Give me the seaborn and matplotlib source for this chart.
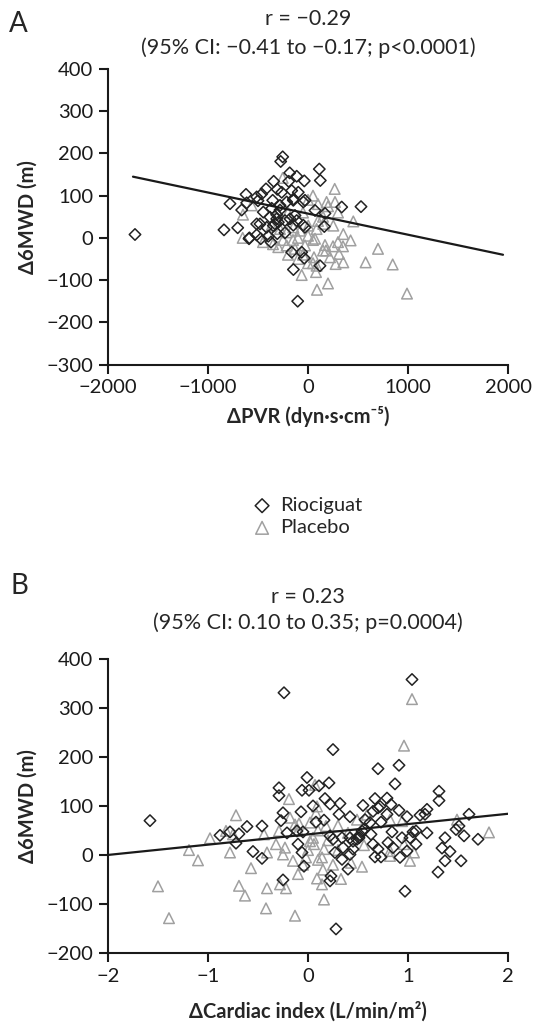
import numpy as np
import matplotlib
matplotlib.use("Agg")
import matplotlib.pyplot as plt
import seaborn as sns

# ---- panel A: change in PVR vs change in 6MWD ----
a_rio = [(-1730, 8), (-780, 81), (-840, 19), (-703, 24), (-620, 103), (-663, 66), (-613, 83),
         (-590, -2), (-513, 33), (-513, 7), (-513, 97), (-253, 192), (-273, 181), (-183, 154),
         (113, 163), (123, 136), (-343, 134), (-113, 146), (-37, 135), (-193, 134), (-420, 116),
         (-463, 104), (-307, 115), (-263, 108), (-163, 112), (-97, 108), (-500, 88), (-353, 89),
         (-280, 77), (-213, 85), (-146, 92), (-30, 89), (337, 73), (530, 74), (70, 65), (-447, 61),
         (-380, 49), (-313, 45), (-330, 33), (-230, 41), (-180, 45), (-130, 53), (-113, 41),
         (-480, 33), (-413, 25), (-347, 29), (-297, 37), (-586, 0), (-473, -2), (-397, 4),
         (-370, -10), (-307, 10), (-30, 25), (163, 27), (-163, -34), (-63, -34), (-37, -48),
         (-146, -75), (120, -66), (-103, -150), (170, 58), (-280, 66), (-363, 70), (-147, 89),
         (-47, 85), (-147, 30), (-47, 30), (-230, 12), (-313, 55)]
a_pla = [(-563, 77), (-650, 55), (-653, 0), (-253, 142), (267, 116), (186, 85), (270, 85),
         (453, 39), (-364, 29), (-280, 21), (-213, 13), (-146, 25), (-80, 17), (3, 29), (86, 21),
         (153, 33), (253, 29), (353, 9), (426, -6), (-297, -22), (-213, -18), (-130, -26),
         (-30, -18), (70, -2), (170, -17), (310, -38), (353, -58), (276, -62), (220, -46),
         (60, -46), (86, -66), (80, -81), (576, -58), (700, -26), (847, -63), (990, -132),
         (-63, -88), (200, -108), (90, -123), (-400, 10), (-450, -10), (-300, 60), (-200, 60),
         (-100, 0), (-50, 60), (0, 5), (50, -5), (100, 40), (0, 90), (50, 100), (100, 80),
         (200, 75), (250, -20), (-250, -5), (-50, -40), (50, -60), (180, -30), (300, -10),
         (-350, -15), (150, 50), (-150, -5), (-100, -50), (300, 60), (350, -20), (-200, -40),
         (0, -60), (150, -30)]
a_line_x = [-1750, 1950]
a_line_y = [145, -40]

# ---- panel B: change in cardiac index vs change in 6MWD ----
b_rio = [(-0.24, 331), (-1.58, 70), (-0.01, 158), (-0.29, 137), (-0.29, 121), (-0.06, 132),
         (0.01, 132), (0.11, 141), (0.05, 100), (-0.25, 86), (-0.27, 70), (-0.07, 88), (0.08, 67),
         (-0.88, 40), (-0.78, 47), (-0.69, 43), (-0.72, 24), (-0.61, 58), (-0.46, 59), (-0.55, 7),
         (-0.46, -7), (-0.21, 45), (-0.11, 49), (-0.05, 47), (-0.10, 22), (-0.06, 5), (-0.04, -23),
         (-0.25, -51), (1.04, 358), (0.25, 215), (0.70, 176), (0.91, 183), (0.87, 145), (1.31, 130),
         (1.31, 111), (0.21, 147), (0.17, 115), (0.22, 104), (0.32, 105), (0.42, 78), (0.31, 83),
         (0.55, 101), (0.67, 115), (0.79, 116), (0.83, 103), (0.72, 99), (0.65, 89), (0.70, 96),
         (0.57, 72), (0.62, 66), (0.73, 67), (0.79, 83), (0.91, 91), (0.99, 78), (1.12, 81),
         (1.19, 93), (1.17, 83), (0.84, 47), (0.94, 35), (1.05, 47), (1.19, 45), (1.37, 35),
         (1.34, 14), (1.42, 7), (1.37, -12), (1.53, -12), (1.30, -35), (1.48, 52), (1.51, 59),
         (1.56, 39), (1.70, 32), (0.97, -74), (0.28, -151), (0.16, 71), (0.22, 39), (0.25, 32),
         (0.34, 35), (0.42, 35), (0.45, 12), (0.42, 1), (0.34, -9), (0.40, -29), (0.23, -43),
         (0.22, -53), (0.35, 15), (0.27, 5), (0.56, 52), (0.63, 42), (0.65, 22), (0.70, 12),
         (0.67, -4), (0.73, -4), (0.80, 25), (0.85, 15), (0.92, -5), (0.99, 8), (1.02, 35),
         (1.08, 22), (1.08, 49), (0.45, 28), (0.49, 32), (0.51, 35), (0.52, 41), (0.54, 49),
         (1.61, 83)]
b_pla = [(-0.98, 34), (-1.19, 10), (-1.10, -11), (-1.50, -64), (-1.39, -129), (-0.72, 81),
         (-0.82, 49), (-0.75, 42), (-0.78, 5), (-0.57, -27), (-0.69, -63), (-0.63, -83),
         (-0.41, -68), (-0.42, -109), (-0.13, -124), (0.16, -91), (0.14, -60), (0.54, -24),
         (1.02, -12), (1.49, 72), (1.81, 46), (-0.10, -39), (-0.44, 42), (-0.29, 49), (-0.32, 22),
         (-0.18, 76), (-0.13, 62), (-0.10, 49), (0.33, -49), (0.43, -16), (-0.19, 114),
         (-0.09, 64), (-0.41, 5), (-0.25, 1), (-0.23, 15), (-0.15, -12), (-0.28, -60),
         (-0.22, -68), (1.04, 318), (0.96, 223), (1.06, 5), (0.82, -2), (0.09, -48), (0.07, 143),
         (0.09, 99), (0.18, 59), (0.02, 66), (0.16, 12), (0.14, -5), (0.06, 22), (0.02, 28),
         (0.49, 72), (0.59, 82), (0.82, 72), (0.94, 69), (0.56, 20), (0.82, 8), (0.96, 22),
         (0.00, 10), (0.05, 35), (0.10, -10), (0.20, 30), (0.25, -20), (0.30, 10), (-0.05, -20),
         (0.10, 50), (0.30, 60), (0.40, 45), (0.15, -30), (0.08, 85), (-0.02, -5)]
b_line_x = [-2, 2]
b_line_y = [0, 84]

groups = ["Riociguat", "Placebo"]

sns.set_style("ticks")
plt.rcParams["font.family"] = ["Lato", "DejaVu Sans"]
plt.rcParams["axes.unicode_minus"] = True
plt.rcParams["axes.linewidth"] = 1.5
plt.rcParams["axes.edgecolor"] = "#1a1a1a"

fig = plt.figure(figsize=(5.33, 10.32), dpi=100)
ax_a = fig.add_axes([0.2026, 0.6468, 0.7505, 0.2863])
ax_b = fig.add_axes([0.2026, 0.0766, 0.7505, 0.2849])

rio_style = dict(marker="D", s=34, facecolor="none", edgecolor="#222222", linewidth=1.1)
pla_style = dict(marker="^", s=58, facecolor="none", edgecolor="#a0a0a0", linewidth=1.1)

FS = 14.5


def draw_panel(ax, rio, pla, lx, ly):
    rio = np.array(rio)
    pla = np.array(pla)
    sns.scatterplot(x=pla[:, 0], y=pla[:, 1], ax=ax, label=groups[1], zorder=2, **pla_style)
    sns.scatterplot(x=rio[:, 0], y=rio[:, 1], ax=ax, label=groups[0], zorder=3, **rio_style)
    sns.lineplot(x=lx, y=ly, ax=ax, color="#1a1a1a", linewidth=1.6, zorder=4)
    if ax.get_legend() is not None:
        ax.get_legend().remove()
    sns.despine(ax=ax)
    ax.tick_params(direction="out", length=6.5, width=1.5, color="#1a1a1a",
                   labelsize=FS, labelcolor="#1a1a1a", pad=4)


draw_panel(ax_a, a_rio, a_pla, a_line_x, a_line_y)
ax_a.set_xlim(-2000, 2000)
ax_a.set_ylim(-300, 400)
ax_a.set_xticks(np.arange(-2000, 2001, 1000))
ax_a.set_yticks(np.arange(-300, 401, 100))
ax_a.set_xlabel("ΔPVR (dyn·s·cm⁻⁵)", fontsize=FS, fontweight="bold")
ax_a.set_ylabel("Δ6MWD (m)", fontsize=FS, fontweight="bold")
ax_a.xaxis.set_label_coords(0.5, -0.14)
ax_a.yaxis.set_label_coords(-0.175, 0.5)
ax_a.text(0.5, 1.169, "r = −0.29", transform=ax_a.transAxes, ha="center", va="center", fontsize=15.5)
ax_a.text(0.5, 1.072, "(95% CI: −0.41 to −0.17; p<0.0001)", transform=ax_a.transAxes,
          ha="center", va="center", fontsize=15.5)

draw_panel(ax_b, b_rio, b_pla, b_line_x, b_line_y)
ax_b.set_xlim(-2, 2)
ax_b.set_ylim(-200, 400)
ax_b.set_xticks(np.arange(-2, 3, 1))
ax_b.set_yticks(np.arange(-200, 401, 100))
ax_b.set_xlabel("ΔCardiac index (L/min/m²)", fontsize=FS, fontweight="bold")
ax_b.set_ylabel("Δ6MWD (m)", fontsize=FS, fontweight="bold")
ax_b.xaxis.set_label_coords(0.5, -0.165)
ax_b.yaxis.set_label_coords(-0.175, 0.5)
ax_b.text(0.5, 1.211, "r = 0.23", transform=ax_b.transAxes, ha="center", va="center", fontsize=15.5)
ax_b.text(0.5, 1.122, "(95% CI: 0.10 to 0.35; p=0.0004)", transform=ax_b.transAxes,
          ha="center", va="center", fontsize=15.5)

fig.text(18 / 533, 1 - 24 / 1032, "A", fontsize=20, ha="center", va="center")
fig.text(19 / 533, 1 - 586 / 1032, "B", fontsize=20, ha="center", va="center")

handles, labels = ax_a.get_legend_handles_labels()
order = [labels.index(g) for g in groups]
fig.legend([handles[i] for i in order], [labels[i] for i in order],
           loc="center left", bbox_to_anchor=(252 / 533, 1 - 516.5 / 1032),
           frameon=False, fontsize=FS, borderpad=0, borderaxespad=0,
           handlelength=1.0, handletextpad=0.4, labelspacing=0.25, markerscale=1.2)

fig.savefig("out.png", dpi=100)
